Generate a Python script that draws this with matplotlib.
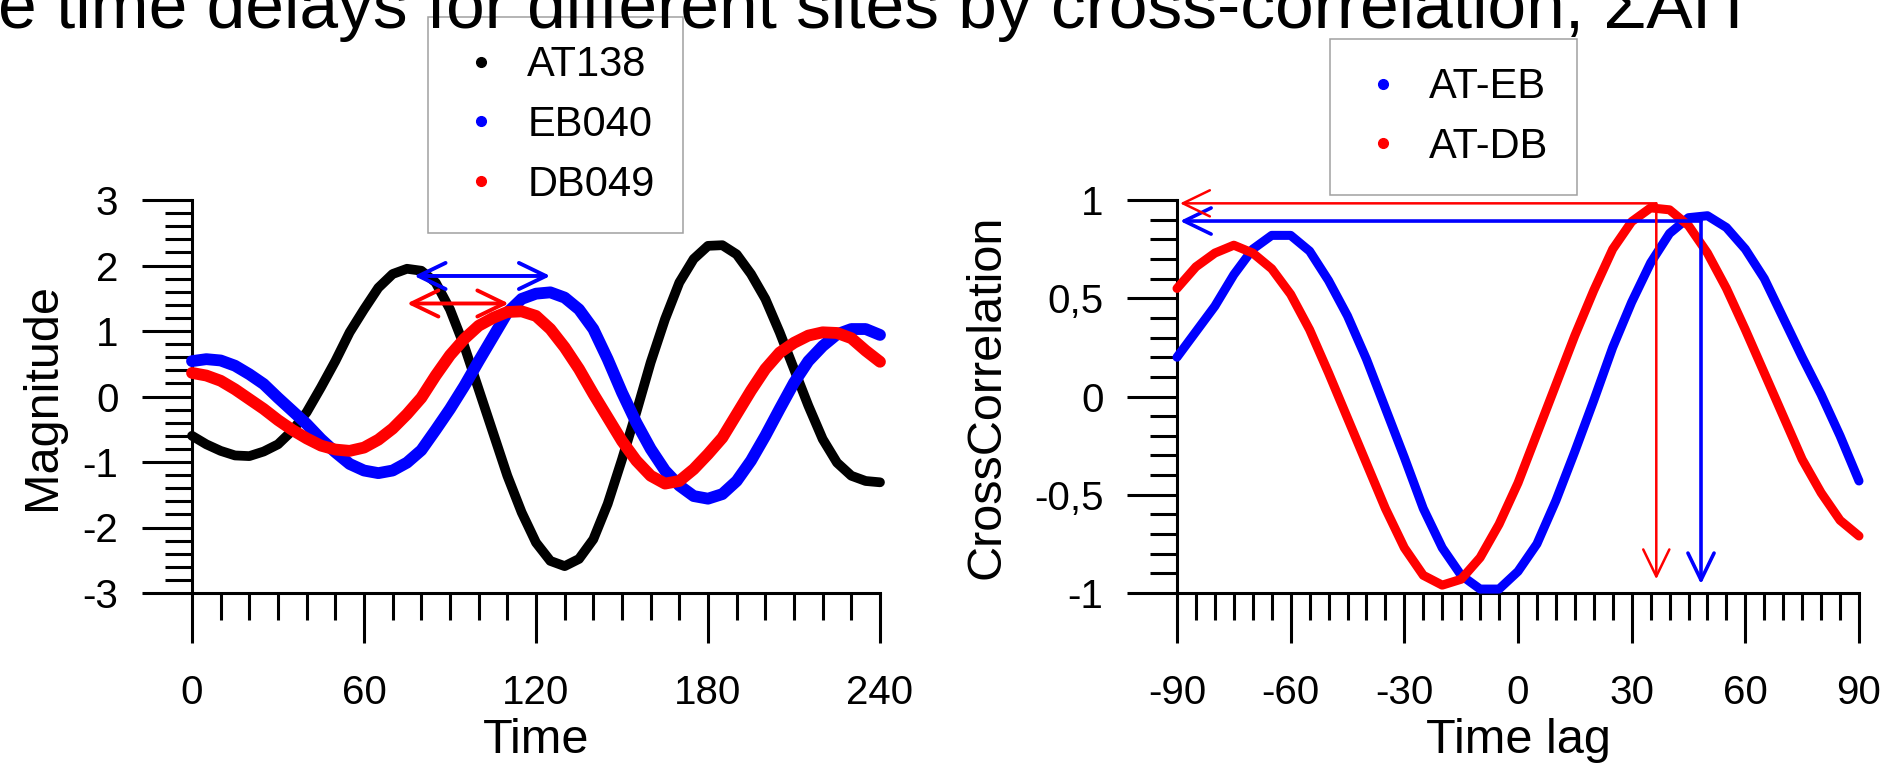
import matplotlib
matplotlib.use('Agg')
import matplotlib.pyplot as plt
from matplotlib.ticker import MultipleLocator, FixedLocator, FixedFormatter
from matplotlib.lines import Line2D

plt.rcParams['font.family'] = ['Liberation Sans', 'DejaVu Sans']
plt.rcParams['axes.unicode_minus'] = False

# ---------------- data ----------------
title_text = "e time delays for different sites by cross-correlation, ΣΑΠ"

time = list(range(0, 241, 5))
at138 = [-0.60, -0.73, -0.83, -0.90, -0.91, -0.84, -0.73, -0.52, -0.24, 0.14,
         0.54, 0.98, 1.33, 1.66, 1.87, 1.95, 1.92, 1.74, 1.33, 0.77,
         0.11, -0.55, -1.21, -1.77, -2.23, -2.51, -2.59, -2.48, -2.18, -1.64,
         -0.96, -0.24, 0.52, 1.18, 1.74, 2.10, 2.30, 2.31, 2.17, 1.87,
         1.49, 0.98, 0.42, -0.14, -0.65, -1.01, -1.21, -1.29, -1.31]
eb040 = [0.54, 0.57, 0.55, 0.47, 0.34, 0.19, -0.02, -0.22, -0.42, -0.65,
         -0.85, -1.03, -1.13, -1.17, -1.13, -1.01, -0.82, -0.51, -0.19, 0.16,
         0.54, 0.91, 1.28, 1.49, 1.57, 1.59, 1.51, 1.33, 1.03, 0.57,
         0.06, -0.40, -0.80, -1.13, -1.36, -1.52, -1.56, -1.49, -1.29, -0.98,
         -0.60, -0.19, 0.21, 0.54, 0.77, 0.95, 1.03, 1.03, 0.94]
db049 = [0.36, 0.32, 0.24, 0.11, -0.04, -0.19, -0.36, -0.51, -0.64, -0.75,
         -0.81, -0.83, -0.78, -0.66, -0.49, -0.27, -0.02, 0.32, 0.63, 0.88,
         1.08, 1.20, 1.29, 1.30, 1.23, 1.03, 0.75, 0.42, 0.04, -0.32,
         -0.68, -0.98, -1.21, -1.33, -1.29, -1.11, -0.88, -0.63, -0.27, 0.09,
         0.42, 0.67, 0.82, 0.93, 0.98, 0.97, 0.89, 0.70, 0.53]

lag = list(range(-90, 91, 5))
at_eb = [0.20, 0.33, 0.46, 0.62, 0.75, 0.82, 0.82, 0.74, 0.59, 0.41,
         0.19, -0.06, -0.31, -0.57, -0.77, -0.91, -0.98, -0.98, -0.89, -0.75,
         -0.53, -0.28, -0.02, 0.25, 0.48, 0.68, 0.83, 0.91, 0.92, 0.86,
         0.75, 0.60, 0.40, 0.20, 0.01, -0.20, -0.43]
at_db = [0.55, 0.66, 0.73, 0.77, 0.73, 0.65, 0.52, 0.34, 0.12, -0.11,
         -0.34, -0.57, -0.77, -0.91, -0.96, -0.93, -0.82, -0.65, -0.44, -0.19,
         0.06, 0.31, 0.54, 0.75, 0.89, 0.96, 0.95, 0.87, 0.73, 0.55,
         0.34, 0.12, -0.10, -0.32, -0.49, -0.63, -0.71]

left_names = ['AT138', 'EB040', 'DB049']
right_names = ['AT-EB', 'AT-DB']

time_ticks = [0, 60, 120, 180, 240]
time_tick_labels = ['0', '60', '120', '180', '240']
mag_ticks = [-3, -2, -1, 0, 1, 2, 3]
mag_tick_labels = ['-3', '-2', '-1', '0', '1', '2', '3']
lag_ticks = [-90, -60, -30, 0, 30, 60, 90]
lag_tick_labels = ['-90', '-60', '-30', '0', '30', '60', '90']
corr_ticks = [-1, -0.5, 0, 0.5, 1]
corr_tick_labels = ['-1', '-0,5', '0', '0,5', '1']

# delay annotations
at_peak_time = [77.5, 75.0]          # start of blue / red double arrows
site_peak_time = [125.0, 110.5]      # EB040 peak, DB049 peak
arrow_level = [1.84, 1.42]
xc_peak_lag = [48.3, 36.5]           # AT-EB, AT-DB
xc_peak_level = [0.893, 0.983]
xc_arrow_bottom = [-0.955, -0.93]
xc_arrow_left = -89.2

# ---------------- figure ----------------
W, H = 1880, 766
fig = plt.figure(figsize=(W / 100, H / 100), dpi=100)
ax1 = fig.add_axes([192 / W, 173 / H, 688 / W, 393 / H])
ax2 = fig.add_axes([1177 / W, 173 / H, 682 / W, 393 / H])

BLUE = '#0000ff'
RED = '#ff0000'
BLACK = '#000000'

line_kw = dict(solid_capstyle='round', solid_joinstyle='round', clip_on=False)
ax1.plot(time, at138, color=BLACK, lw=7, zorder=2, **line_kw)
ax1.plot(time, eb040, color=BLUE, lw=8.5, zorder=3, **line_kw)
ax1.plot(time, db049, color=RED, lw=8.5, zorder=4, **line_kw)

ax2.plot(lag, at_eb, color=BLUE, lw=6.5, zorder=3, **line_kw)
ax2.plot(lag, at_db, color=RED, lw=6.5, zorder=4, **line_kw)

# axes styling
for ax in (ax1, ax2):
    for s in ('top', 'right'):
        ax.spines[s].set_visible(False)
    for s in ('left', 'bottom'):
        ax.spines[s].set_linewidth(2.2)
    ax.tick_params(which='major', direction='out', length=36, width=2.2,
                   labelsize=29, colors='black')
    ax.tick_params(which='minor', direction='out', length=19.5, width=2.2)
    ax.tick_params(axis='x', which='major', pad=22)
    ax.tick_params(axis='y', which='major', pad=17)

ax1.set_xlim(0, 240)
ax1.set_ylim(-3, 3)
ax1.xaxis.set_major_locator(FixedLocator(time_ticks))
ax1.xaxis.set_major_formatter(FixedFormatter(time_tick_labels))
ax1.xaxis.set_minor_locator(MultipleLocator(10))
ax1.yaxis.set_major_locator(FixedLocator(mag_ticks))
ax1.yaxis.set_major_formatter(FixedFormatter(mag_tick_labels))
ax1.yaxis.set_minor_locator(MultipleLocator(0.2))

ax2.set_xlim(-90, 90)
ax2.set_ylim(-1, 1)
ax2.xaxis.set_major_locator(FixedLocator(lag_ticks))
ax2.xaxis.set_major_formatter(FixedFormatter(lag_tick_labels))
ax2.xaxis.set_minor_locator(MultipleLocator(5))
ax2.yaxis.set_major_locator(FixedLocator(corr_ticks))
ax2.yaxis.set_major_formatter(FixedFormatter(corr_tick_labels))
ax2.yaxis.set_minor_locator(MultipleLocator(0.1))

ax1.set_xlabel('Time', fontsize=35)
ax1.set_ylabel('Magnitude', fontsize=35)
ax2.set_xlabel('Time lag', fontsize=35)
ax2.set_ylabel('CrossCorrelation', fontsize=35)
ax1.xaxis.set_label_coords(0.5, -0.318)
ax2.xaxis.set_label_coords(0.5, -0.318)
ax1.yaxis.set_label_coords(-0.1846, 0.5)
ax2.yaxis.set_label_coords(-0.2449, 0.5)

# arrows, left panel (double headed)
left_colors = [BLUE, RED]
for i in range(2):
    ax1.annotate('', xy=(site_peak_time[i], arrow_level[i]),
                 xytext=(at_peak_time[i], arrow_level[i]),
                 arrowprops=dict(arrowstyle='<->,head_length=0.97,head_width=0.47',
                                 color=left_colors[i], lw=2.8,
                                 shrinkA=0, shrinkB=0, mutation_scale=20),
                 zorder=6)

# arrows, right panel (L-shaped)
right_lw = [2.6, 1.8]
for i in range(2):
    c = left_colors[i]
    props = dict(arrowstyle='->,head_length=0.97,head_width=0.47', color=c,
                 lw=right_lw[i], shrinkA=0, shrinkB=0, mutation_scale=20)
    ax2.annotate('', xy=(xc_arrow_left, xc_peak_level[i]),
                 xytext=(xc_peak_lag[i], xc_peak_level[i]),
                 arrowprops=props, zorder=6, annotation_clip=False)
    ax2.annotate('', xy=(xc_peak_lag[i], xc_arrow_bottom[i]),
                 xytext=(xc_peak_lag[i], xc_peak_level[i]),
                 arrowprops=props, zorder=6, annotation_clip=False)

# legends
leg_kw = dict(loc='upper left', bbox_transform=fig.transFigure, fontsize=30,
              frameon=True, fancybox=False, edgecolor='#a0a0a0', framealpha=1,
              borderpad=0.68, labelspacing=0.47, handlelength=1.2,
              handletextpad=0.5, borderaxespad=0, numpoints=1)
h1 = [Line2D([], [], ls='', marker='o', ms=7, color=c) for c in (BLACK, BLUE, RED)]
leg1 = ax1.legend(h1, left_names, bbox_to_anchor=(428 / W, 1 - 17 / H), **leg_kw)
leg1.get_frame().set_linewidth(1.1)
h2 = [Line2D([], [], ls='', marker='o', ms=7, color=c) for c in (BLUE, RED)]
leg2 = ax2.legend(h2, right_names, bbox_to_anchor=(1330 / W, 1 - 39 / H), **leg_kw)
leg2.get_frame().set_linewidth(1.1)

# cut-off title at the very top (as in the source picture)
fig.text(-2 / W, 1 - 28 / H, title_text, fontsize=50, ha='left', va='baseline')

fig.savefig('out.png', dpi=100)
